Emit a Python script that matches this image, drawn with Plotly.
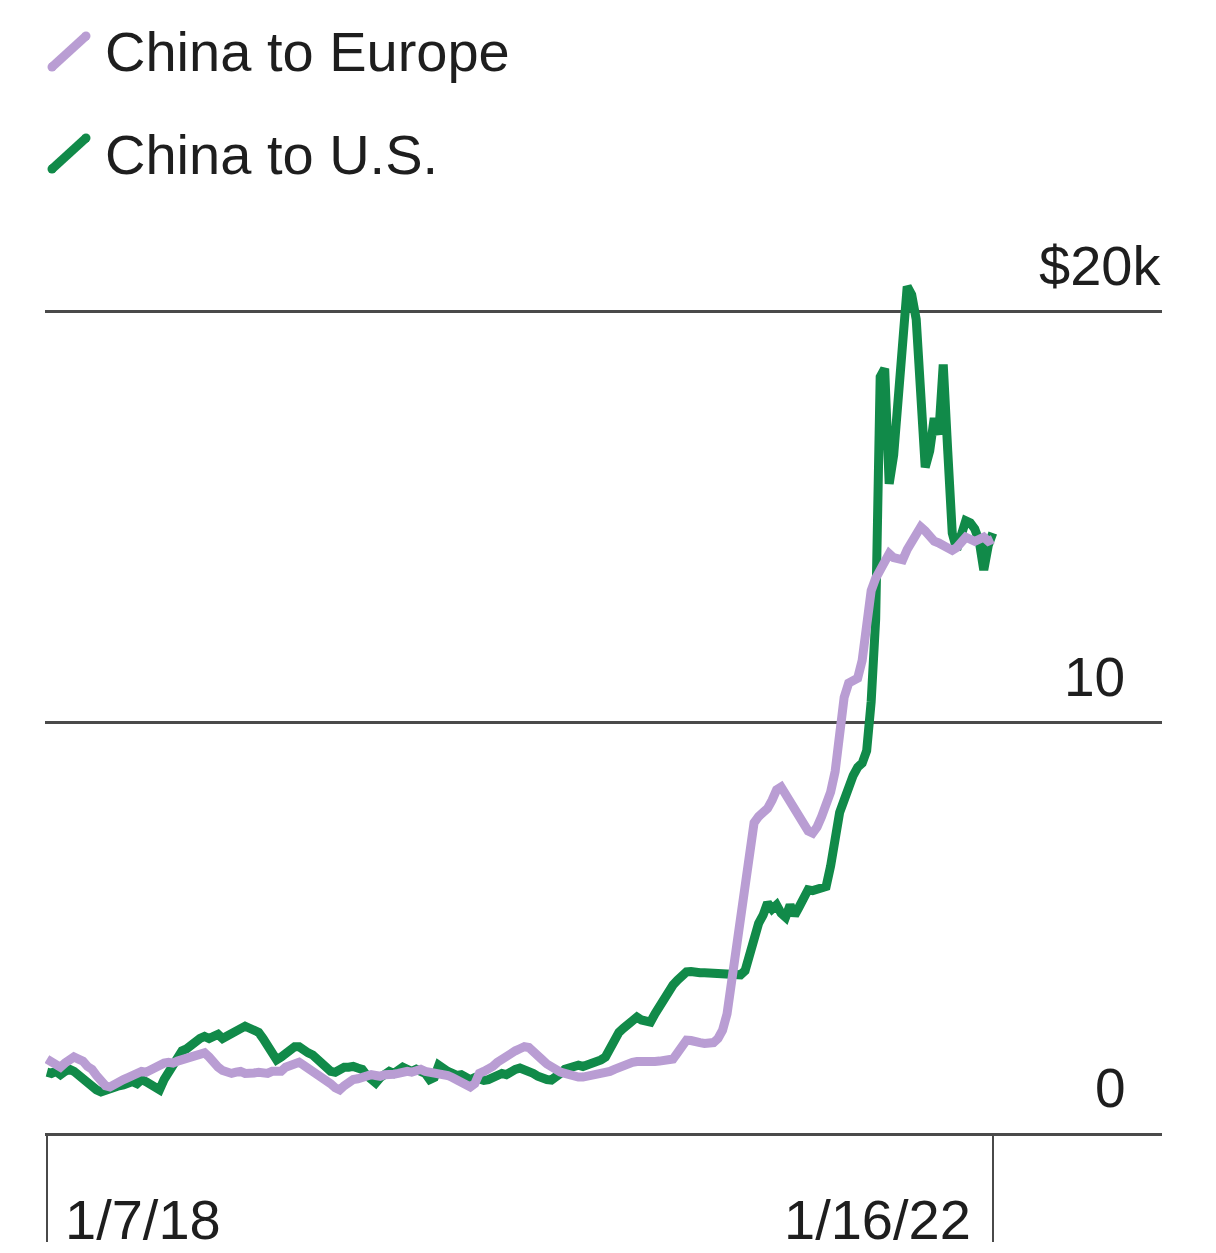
import pandas as pd
import plotly.graph_objects as go

# Weekly freight rates, 40-ft container, thousands of US dollars
start_date = "2018-01-07"
n_weeks = 211

china_to_us = [
    1.48, 1.45, 1.50, 1.42, 1.50, 1.55, 1.50, 1.40, 1.30, 1.25,
    1.15, 1.05, 1.00, 1.05, 1.05, 1.10, 1.15, 1.17, 1.20, 1.25,
    1.20, 1.30, 1.25, 1.20, 1.15, 1.05, 1.30, 1.50, 1.70, 1.90,
    2.00, 2.05, 2.15, 2.20, 2.30, 2.35, 2.30, 2.35, 2.40, 2.30,
    2.35, 2.40, 2.45, 2.55, 2.60, 2.55, 2.50, 2.45, 2.30, 2.10,
    1.90, 1.78, 1.85, 1.95, 2.05, 2.10, 2.10, 2.00, 1.95, 1.90,
    1.80, 1.70, 1.60, 1.50, 1.48, 1.55, 1.60, 1.60, 1.62, 1.58,
    1.55, 1.40, 1.30, 1.22, 1.35, 1.45, 1.50, 1.45, 1.55, 1.60,
    1.55, 1.50, 1.55, 1.50, 1.45, 1.30, 1.35, 1.65, 1.55, 1.50,
    1.45, 1.40, 1.42, 1.35, 1.30, 1.35, 1.30, 1.28, 1.30, 1.35,
    1.40, 1.45, 1.42, 1.50, 1.55, 1.58, 1.55, 1.50, 1.45, 1.38,
    1.32, 1.30, 1.29, 1.35, 1.45, 1.55, 1.60, 1.62, 1.65, 1.62,
    1.65, 1.70, 1.75, 1.78, 1.85, 2.05, 2.30, 2.45, 2.55, 2.65,
    2.75, 2.82, 2.75, 2.70, 2.70, 2.90, 3.10, 3.28, 3.45, 3.60,
    3.72, 3.85, 3.92, 3.93, 3.90, 3.90, 3.90, 3.90, 3.90, 3.90,
    3.90, 3.89, 3.90, 3.88, 3.85, 3.95, 4.40, 4.70, 5.10, 5.30,
    5.60, 5.45, 5.55, 5.35, 5.25, 5.55, 5.30, 5.50, 5.75, 5.92,
    5.90, 5.95, 5.98, 6.00, 6.50, 7.30, 7.80, 8.10, 8.50, 8.70,
    8.90, 9.00, 9.30, 10.50, 12.50, 18.40, 18.60, 15.80, 16.50, 18.00,
    19.30, 20.60, 20.40, 19.80, 18.00, 16.20, 16.60, 17.40, 17.00, 18.70,
    16.60, 14.60, 14.20, 14.60, 14.90, 14.85, 14.70, 14.40, 13.70, 14.30,
    14.60,
]

china_to_europe = [
    1.80, 1.75, 1.65, 1.60, 1.70, 1.80, 1.85, 1.80, 1.75, 1.62,
    1.55, 1.40, 1.25, 1.15, 1.12, 1.20, 1.25, 1.30, 1.35, 1.40,
    1.45, 1.50, 1.48, 1.55, 1.60, 1.65, 1.70, 1.72, 1.70, 1.75,
    1.78, 1.80, 1.82, 1.85, 1.90, 1.95, 1.85, 1.70, 1.60, 1.52,
    1.48, 1.45, 1.48, 1.50, 1.45, 1.48, 1.46, 1.48, 1.45, 1.45,
    1.50, 1.48, 1.50, 1.60, 1.65, 1.70, 1.72, 1.65, 1.58, 1.50,
    1.45, 1.36, 1.30, 1.20, 1.10, 1.05, 1.15, 1.25, 1.30, 1.32,
    1.35, 1.40, 1.42, 1.40, 1.38, 1.42, 1.45, 1.43, 1.45, 1.48,
    1.50, 1.48, 1.50, 1.55, 1.50, 1.48, 1.50, 1.48, 1.45, 1.40,
    1.35, 1.30, 1.22, 1.18, 1.12, 1.20, 1.45, 1.50, 1.55, 1.62,
    1.72, 1.80, 1.85, 1.95, 2.00, 2.05, 2.10, 2.08, 2.00, 1.90,
    1.78, 1.68, 1.60, 1.53, 1.48, 1.45, 1.40, 1.38, 1.36, 1.36,
    1.38, 1.38, 1.40, 1.42, 1.46, 1.50, 1.55, 1.60, 1.65, 1.70,
    1.72, 1.74, 1.73, 1.74, 1.73, 1.74, 1.75, 1.76, 1.77, 1.80,
    1.95, 2.15, 2.26, 2.25, 2.20, 2.20, 2.18, 2.18, 2.20, 2.30,
    2.50, 2.90, 3.70, 4.60, 5.30, 6.00, 7.00, 7.55, 7.70, 7.80,
    7.90, 8.10, 8.35, 8.42, 8.25, 8.05, 7.90, 7.75, 7.55, 7.35,
    7.30, 7.45, 7.70, 7.95, 8.30, 8.80, 9.80, 10.60, 10.95, 11.00,
    11.07, 11.50, 12.40, 13.20, 13.50, 13.70, 14.00, 14.10, 14.00, 13.95,
    13.95, 14.20, 14.40, 14.60, 14.75, 14.65, 14.50, 14.40, 14.36, 14.30,
    14.25, 14.18, 14.25, 14.35, 14.50, 14.45, 14.40, 14.45, 14.50, 14.40,
    14.45,
]

y_tick_values = [0, 10, 20]
y_tick_labels = ["0", "10", "$20k"]
x_tick_labels = ["1/7/18", "1/16/22"]
series_names = ["China to Europe", "China to U.S."]

dates = pd.date_range(start_date, periods=n_weeks, freq="7D")

PURPLE = "#b99dd3"
GREEN = "#118a49"
INK = "#1e1e1e"
RULE = "#4a4a4a"
FONT = "Liberation Sans, Arial, sans-serif"
LINE_W = 9

W, H = 1216, 1253
L, R, T, B = 45, 54, 229, 120
plot_w = W - L - R
plot_h = H - T - B


def px_x(p):
    return (p - L) / plot_w


def px_y(p):
    return (H - B - p) / plot_h


fig = go.Figure()
fig.add_trace(go.Scatter(
    x=dates, y=china_to_us, mode="lines", name=series_names[1],
    line=dict(color=GREEN, width=LINE_W), showlegend=False,
))
fig.add_trace(go.Scatter(
    x=dates, y=china_to_europe, mode="lines", name=series_names[0],
    line=dict(color=PURPLE, width=LINE_W), showlegend=False,
))

x_start = dates[0] - pd.Timedelta(days=3)
x_end = dates[-1] + pd.Timedelta(days=263)

fig.update_xaxes(
    type="date", range=[x_start, x_end],
    showgrid=False, zeroline=False,
    showline=True, linecolor=RULE, linewidth=2.5,
    ticks="outside", ticklen=106, tickwidth=2, tickcolor=RULE,
    tickvals=[dates[0], dates[-1]], showticklabels=False,
)
fig.update_yaxes(
    range=[0, 22], tickvals=y_tick_values[1:],
    showgrid=True, gridcolor=RULE, gridwidth=2.5,
    zeroline=False, showticklabels=False, showline=False,
)

annotations = []
# value labels sitting above each rule
label_pos = {"0": 1128, "10": 1127, "$20k": 1163}
for v, lab in zip(y_tick_values, y_tick_labels):
    annotations.append(dict(
        x=px_x(label_pos[lab]), xref="paper", xanchor="right",
        y=v, yref="y", yanchor="bottom", yshift=12,
        text=lab, showarrow=False,
        font=dict(family=FONT, size=56 if lab == "$20k" else 55, color=INK),
    ))
# date labels beside the end ticks
annotations.append(dict(
    x=dates[0], xref="x", xanchor="left", xshift=16,
    y=px_y(1219), yref="paper", yanchor="middle",
    text=x_tick_labels[0], showarrow=False,
    font=dict(family=FONT, size=56, color=INK),
))
annotations.append(dict(
    x=dates[-1], xref="x", xanchor="right", xshift=-20,
    y=px_y(1219), yref="paper", yanchor="middle",
    text=x_tick_labels[1], showarrow=False,
    font=dict(family=FONT, size=56, color=INK),
))

# legend: slanted swatch with rounded ends + name
shapes = []
cap_r = 4.5
for name, color, mid in [(series_names[0], PURPLE, 52), (series_names[1], GREEN, 154)]:
    x0p, y0p, x1p, y1p = 52, mid + 15, 86, mid - 16
    shapes.append(dict(
        type="line", xref="paper", yref="paper",
        x0=px_x(x0p), y0=px_y(y0p), x1=px_x(x1p), y1=px_y(y1p),
        line=dict(color=color, width=LINE_W),
    ))
    for cx, cy in [(x0p, y0p), (x1p, y1p)]:
        shapes.append(dict(
            type="circle", xref="paper", yref="paper",
            x0=px_x(cx - cap_r), x1=px_x(cx + cap_r),
            y0=px_y(cy + cap_r), y1=px_y(cy - cap_r),
            fillcolor=color, line=dict(width=0),
        ))
    annotations.append(dict(
        x=px_x(103), xref="paper", xanchor="left",
        y=px_y(mid), yref="paper", yanchor="middle",
        text=name, showarrow=False,
        font=dict(family=FONT, size=56, color=INK),
    ))

fig.update_layout(
    width=W, height=H,
    margin=dict(l=L, r=R, t=T, b=B, pad=0),
    paper_bgcolor="white", plot_bgcolor="white",
    annotations=annotations, shapes=shapes,
    showlegend=False,
)

fig.write_html("out.html")
